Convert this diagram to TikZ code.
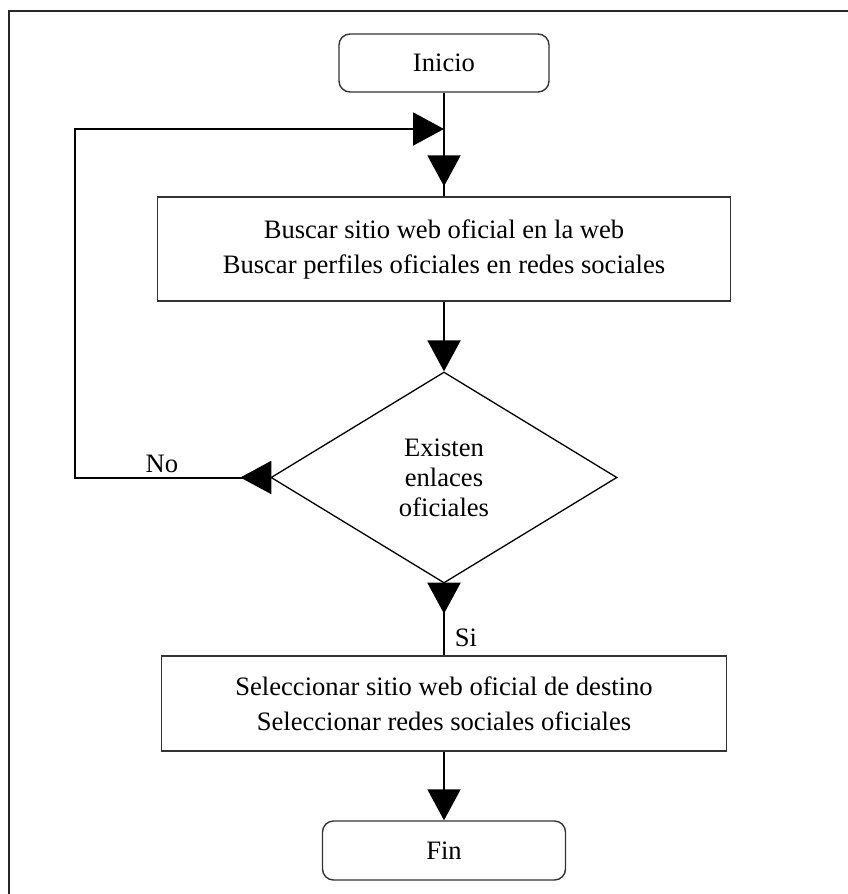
\documentclass[tikz,border=0pt]{standalone}
\usepackage{fontspec}
\setmainfont{Liberation Serif}
\usetikzlibrary{shapes.geometric,arrows.meta,decorations.markings}

\tikzset{
  txt/.style={font=\fontsize{26.6}{35}\selectfont, align=center, inner sep=0pt},
  terminal/.style={txt, draw=black!80, line width=1.4pt, rounded corners=11pt},
  process/.style={txt, draw=black!80, line width=1.4pt},
  decision/.style={diamond, draw=black, line width=1.3pt, inner sep=0pt,
    minimum width=346pt, minimum height=211pt, align=center,
    font=\fontsize{26.6}{30}\selectfont},
  lbl/.style={font=\fontsize{26.6}{30}\selectfont, inner sep=0pt},
  frame/.style={draw=black!85, line width=1.8pt},
  link/.style={draw=black, line width=2pt},
  conn/.style={link, -{Triangle[length=31pt,width=33pt]}},
  midarrow/.style={postaction=decorate, decoration={markings,
    mark=at position #1 with {\arrow{Triangle[length=31pt,width=33pt]}}}}
}

\begin{document}
\begin{tikzpicture}[x=1pt,y=-1pt]
\useasboundingbox (0,0) rectangle (848,894);

% page frame
\draw[frame] (9,905) -- (9,11) -- (860,11);

% flowchart nodes
\node[terminal, minimum width=210pt, minimum height=58pt] (inicio) at (444,63) {Inicio};
\node[process, minimum width=573pt, minimum height=104pt] (buscar) at (444,249)
  {Buscar sitio web oficial en la web\\Buscar perfiles oficiales en redes sociales};
\node[decision] (existen) at (444,477.5) {Existen\\enlaces\\oficiales};
\node[process, minimum width=565pt, minimum height=95pt] (selec) at (444,703.5)
  {Seleccionar sitio web oficial de destino\\Seleccionar redes sociales oficiales};
\node[terminal, minimum width=243pt, minimum height=59pt] (fin) at (444,850.5) {Fin};

% join point of the retry loop
\coordinate (merge) at (inicio.south |- 0,129);

% connectors
\draw[link, midarrow=-10pt] (inicio) -- (buscar);
\draw[conn] (buscar) -- (existen);
\draw[link, midarrow=30pt] (existen) -- (selec);
\draw[conn] (selec) -- (fin);
\draw[conn, midarrow=30pt] (existen.west) -- ++(-195,0) |- (merge);

% branch labels
\node[lbl, anchor=base] (no) at (162,472) {No};
\node[lbl, anchor=base] (si) at (466,646) {Si};
\end{tikzpicture}
\end{document}
